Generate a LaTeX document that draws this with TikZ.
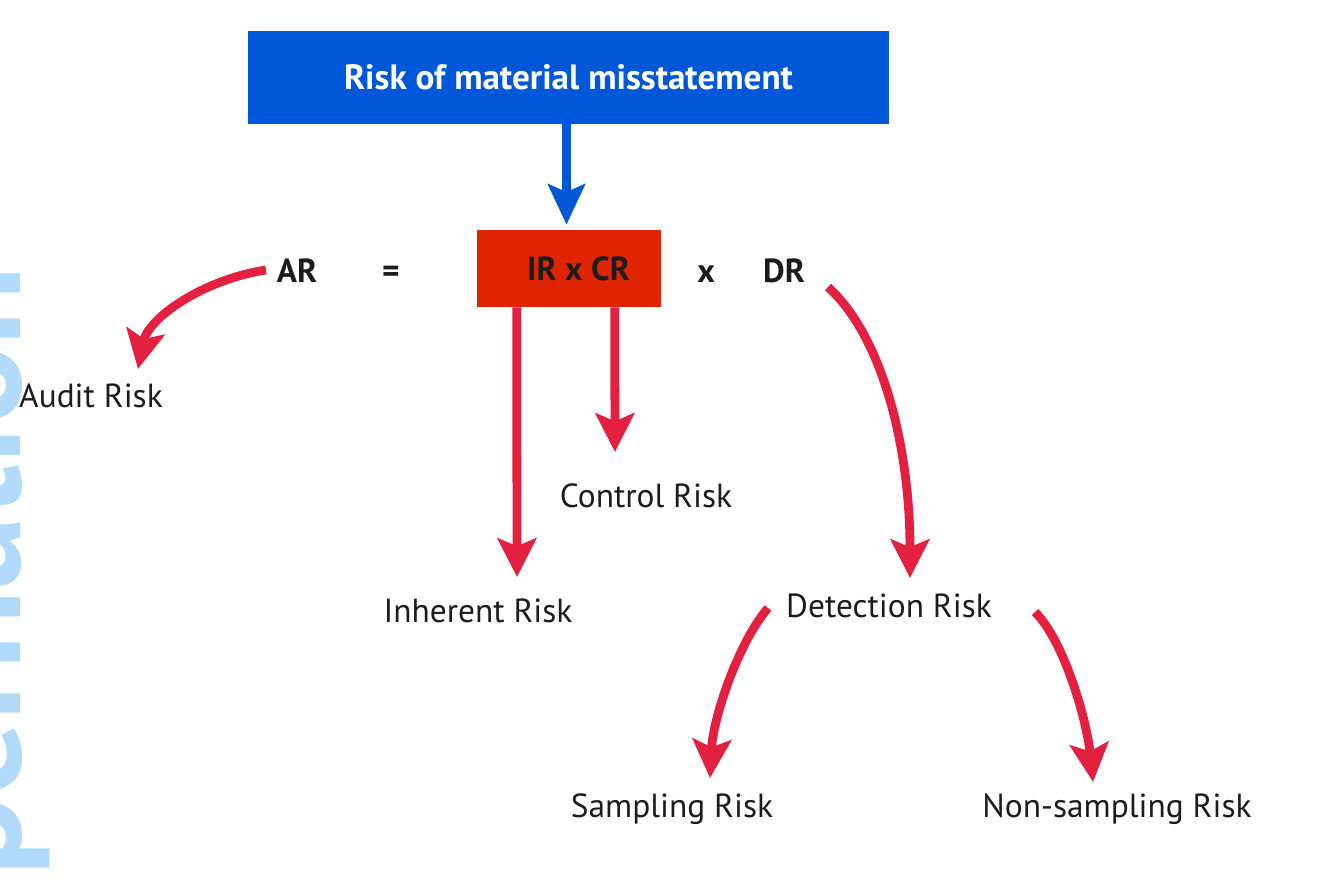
\documentclass[tikz,border=0pt]{standalone}
\usepackage{fontspec}
\setmainfont{PT Sans}
\usetikzlibrary{arrows.meta,calc}

\definecolor{rmmblue}{RGB}{0,88,216}
\definecolor{boxred}{RGB}{224,36,0}
\definecolor{arrowred}{RGB}{228,32,65}
\definecolor{markblue}{RGB}{178,218,250}
\definecolor{ink}{RGB}{28,28,28}

\tikzset{
  termtext/.style={font=\bfseries\fontsize{19}{23}\selectfont,text=ink,inner sep=0pt,anchor=base},
  risklabel/.style={font=\fontsize{19}{23}\selectfont,text=ink,inner sep=0pt,anchor=base},
  redarrow/.style={draw=arrowred,line width=5pt,-{Stealth[length=22pt,width=22pt,inset=4.5pt]}},
  bluearrow/.style={draw=rmmblue,line width=5pt,-{Stealth[length=23pt,width=21pt,inset=4.5pt]}}
}

\begin{document}
\begin{tikzpicture}[x=0.02cm,y=-0.02cm]
  \useasboundingbox (0,0) rectangle (1334,889);

  % Watermark on the left edge
  \begin{scope}
    \clip (0,0) rectangle (1334,889);
    \node[rotate=90,anchor=base west,inner sep=0pt,text=markblue,
      font=\bfseries\fontsize{84}{84}\selectfont] (mark) at (20,877) {pernation};
  \end{scope}

  % Top box and the product box
  \node[fill=rmmblue,text=white,minimum width=12.82cm,minimum height=1.86cm,
    font=\bfseries\fontsize{20}{24}\selectfont] (rmm) at (568.5,77.5) {Risk of material misstatement};
  \node[fill=boxred,text=ink,minimum width=3.68cm,minimum height=1.54cm,
    font=\bfseries\fontsize{19}{23}\selectfont] (ircr) at (569,268.5) {\hspace*{0.38cm}IR x CR};

  % The equation
  \node[termtext] (ar) at (297,282) {AR};
  \node[termtext] (eq) at (391,282) {=};
  \node[termtext] (times) at (706,282) {x};
  \node[termtext] (dr) at (784,282) {DR};

  % Components
  \node[risklabel] (audit) at (91,407) {Audit Risk};
  \node[risklabel] (control) at (646,507) {Control Risk};
  \node[risklabel] (inherent) at (478,622) {Inherent Risk};
  \node[risklabel] (detection) at (889,617) {Detection Risk};
  \node[risklabel] (sampling) at (672,817) {Sampling Risk};
  \node[risklabel] (nonsampling) at (1117,817) {Non-sampling Risk};

  % Arrows
  \draw[bluearrow] ($(rmm.south)+(-2,0)$) -- ($(rmm.south |- ircr.north)+(-2,-5)$);
  \draw[redarrow] ($(ar.base)+(-31,-12)$) .. controls +(-65,10) and +(10,-50) .. ($(audit.base)+(47,-38)$);
  \draw[redarrow] ($(ircr.south west)+(40,0)$) -- ($(inherent.base)+(39,-45)$);
  \draw[redarrow] ($(ircr.south west)+(138,0)$) -- ($(control.base)+(-31,-55)$);
  \draw[redarrow] ($(dr.base)+(44,5)$) .. controls +(55,50) and +(0,-130) .. ($(detection.base)+(21,-39)$);
  \draw[redarrow] ($(detection.base)+(-121,-9)$) .. controls +(-30,35) and +(3,-60) .. ($(sampling.base)+(38,-39)$);
  \draw[redarrow] ($(detection.base)+(146,-5)$) .. controls +(30,30) and +(-6,-60) .. ($(nonsampling.base)+(-24,-35)$);
\end{tikzpicture}
\end{document}
